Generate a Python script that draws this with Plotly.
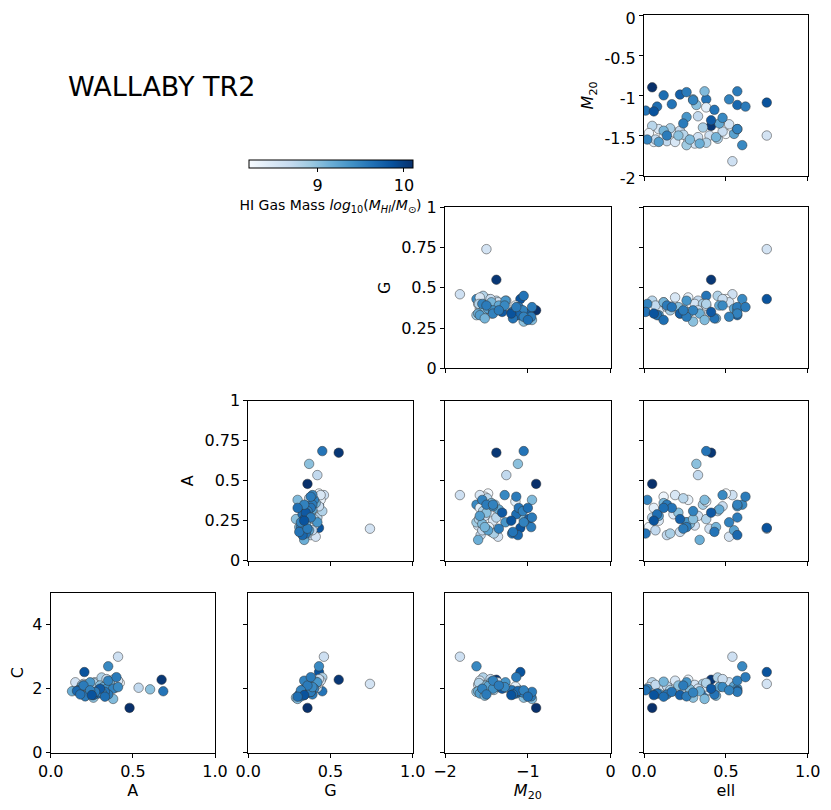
import plotly.graph_objects as go

# one entry per galaxy
A = [0.20, 0.675, 0.205, 0.48, 0.685, 0.605, 0.535, 0.41, 0.35,
     0.42, 0.40, 0.38, 0.33, 0.29, 0.25, 0.22, 0.20, 0.18, 0.16, 0.27, 0.31,
     0.35, 0.24, 0.21, 0.37, 0.41, 0.15, 0.28, 0.34, 0.19, 0.39, 0.26, 0.17,
     0.30, 0.23, 0.36, 0.13, 0.32, 0.19, 0.28, 0.24, 0.34, 0.21, 0.26, 0.38,
     0.38, 0.35, 0.17, 0.29, 0.33, 0.26, 0.21, 0.31, 0.16, 0.18, 0.30, 0.27,
     0.41, 0.35, 0.20, 0.24, 0.25, 0.40, 0.33]
G = [0.74, 0.55, 0.43, 0.36, 0.45, 0.37, 0.42, 0.46, 0.43,
     0.43, 0.41, 0.44, 0.37, 0.39, 0.36, 0.40, 0.35, 0.34, 0.38, 0.42, 0.45,
     0.40, 0.33, 0.37, 0.39, 0.44, 0.41, 0.36, 0.43, 0.39, 0.37, 0.40, 0.36,
     0.38, 0.35, 0.41, 0.34, 0.39, 0.37, 0.33, 0.42, 0.36, 0.31, 0.29, 0.30,
     0.40, 0.39, 0.35, 0.33, 0.38, 0.34, 0.32, 0.36, 0.33, 0.31, 0.35, 0.38,
     0.39, 0.34, 0.36, 0.32, 0.34, 0.38, 0.30]
M20 = [-1.50, -1.38, -1.09, -0.90, -1.05, -1.12, -1.26, -1.82, -1.62,
       -1.48, -1.52, -1.55, -1.58, -1.46, -1.42, -1.60, -1.50, -1.44, -1.57, -1.38, -1.54,
       -1.40, -1.62, -1.47, -1.15, -1.58, -1.36, -1.52, -1.45, -1.55, -1.49, -1.59, -1.41,
       -1.50, -1.55, -1.44, -1.60, -1.35, -1.48, -1.58, -1.27, -1.42, -1.52, -1.05, -0.95,
       -1.55, -1.50, -1.19, -1.14, -1.11, -0.99, -0.96, -1.06, -1.12, -1.18, -1.31, -0.95,
       -1.28, -1.42, -1.35, -1.05, -1.20, -1.14, -1.00]
ELL = [0.75, 0.41, 0.75, 0.05, 0.38, 0.32, 0.33, 0.54, 0.60,
       0.50, 0.12, 0.27, 0.06, 0.18, 0.09, 0.31, 0.40, 0.22, 0.14, 0.05, 0.45,
       0.36, 0.26, 0.03, 0.38, 0.19, 0.52, 0.33, 0.48, 0.07, 0.24, 0.38, 0.16,
       0.21, 0.28, 0.12, 0.34, 0.46, 0.55, 0.09, 0.26, 0.57, 0.44, 0.30, 0.37,
       0.02, 0.14, 0.01, 0.08, 0.17, 0.22, 0.26, 0.30, 0.57, 0.43, 0.41, 0.57,
       0.48, 0.57, 0.24, 0.52, 0.06, 0.62, 0.12]
C = [2.15, 2.28, 2.52, 1.40, 1.92, 1.98, 2.03, 3.00, 2.70,
     2.18, 2.10, 2.28, 2.05, 2.02, 1.98, 2.12, 1.95, 2.00, 2.08, 2.20, 2.35,
     2.15, 1.90, 2.05, 2.07, 2.25, 2.20, 2.00, 2.30, 2.12, 2.02, 2.18, 1.96,
     2.10, 1.98, 2.22, 1.92, 2.05, 2.08, 1.85, 2.20, 2.00, 1.78, 1.72, 1.68,
     2.00, 1.82, 1.95, 1.85, 1.90, 1.80, 1.76, 1.88, 1.93, 1.82, 2.00, 1.90,
     2.05, 2.25, 2.10, 1.95, 1.80, 2.36, 1.75]
LOGM = [8.55, 10.05, 9.85, 10.10, 9.60, 9.00, 8.70, 8.60, 9.45,
        8.25, 8.30, 8.35, 8.40, 8.45, 8.50, 8.55, 8.60, 8.65, 8.70, 8.75, 8.80,
        8.85, 8.90, 8.30, 8.40, 8.50, 8.55, 8.60, 8.65, 8.70, 8.75, 8.80, 8.85,
        9.00, 9.05, 9.10, 9.15, 9.20, 9.25, 9.30, 9.35, 9.40, 9.10, 9.00, 9.05,
        9.50, 9.55, 9.60, 9.65, 9.60, 9.75, 9.55, 9.50, 9.70, 9.60, 9.80, 9.55,
        9.45, 9.50, 9.55, 9.50, 9.85, 9.55, 9.65]

data = {'A': A, 'G': G, 'M20': M20, 'ell': ELL, 'C': C}

# axis settings: range, tick values, tick text, title
axis_info = {
    'A': ([0, 1], [0, 0.5, 1], ['0.0', '0.5', '1.0'], 'A'),
    'G': ([0, 1], [0, 0.5, 1], ['0.0', '0.5', '1.0'], 'G'),
    'M20': ([-2, 0], [-2, -1, 0], ['\u22122', '\u22121', '0'], '<i>M</i><sub>20</sub>'),
    'ell': ([0, 1], [0, 0.5, 1], ['0.0', '0.5', '1.0'], 'ell'),
}
yaxis_info = {
    'M20': ([-2, 0], [-2, -1.5, -1, -0.5, 0], ['-2', '-1.5', '-1', '-0.5', '0'], '<i>M</i><sub>20</sub>'),
    'G': ([0, 1], [0, 0.25, 0.5, 0.75, 1], ['0', '0.25', '0.5', '0.75', '1'], 'G'),
    'A': ([0, 1], [0, 0.25, 0.5, 0.75, 1], ['0', '0.25', '0.5', '0.75', '1'], 'A'),
    'C': ([0, 5], [0, 2, 4], ['0', '2', '4'], 'C'),
}

# page body has an 8px margin, so work in window pixels and shift
OFF = 8
W, H = 831 - OFF, 810 - OFF


def px_x(p):
    return (p - OFF) / W


def px_y(p):
    return 1 - (p - OFF) / H


x_vars = ['A', 'G', 'M20', 'ell']
y_vars = ['M20', 'G', 'A', 'C']
col_px = [(50.7, 215.0), (248.3, 412.7), (445.0, 610.7), (644.0, 807.7)]
row_px = [(15.0, 175.7), (207.3, 368.3), (400.7, 560.7), (592.7, 752.7)]

FONT = 'DejaVu Sans'
FS = 16
fig = go.Figure()
layout = {}
n = 0
for r, yv in enumerate(y_vars):
    for c, xv in enumerate(x_vars):
        if c < 3 - r:
            continue
        n += 1
        xr, xtv, xtt, xtitle = axis_info[xv]
        yr, ytv, ytt, ytitle = yaxis_info[yv]
        bottom = r == 3
        left = c == 3 - r
        fig.add_trace(go.Scatter(
            x=data[xv], y=data[yv], mode='markers',
            xaxis='x%d' % n, yaxis='y%d' % n,
            marker=dict(size=9.5, color=LOGM, coloraxis='coloraxis',
                        line=dict(color='#333333', width=0.5)),
            showlegend=False, hoverinfo='skip'))
        common = dict(showline=True, linecolor='black', linewidth=1, mirror=True,
                      ticks='outside', ticklen=4, tickcolor='black', showgrid=False,
                      zeroline=False, automargin=False, ticklabeloverflow='allow',
                      tickfont=dict(size=FS, color='black'))
        xa = dict(domain=[px_x(col_px[c][0]), px_x(col_px[c][1])], range=xr,
                  anchor='y%d' % n, tickvals=xtv, ticktext=xtt,
                  showticklabels=bottom, **common)
        if bottom:
            xa['title'] = dict(text=xtitle, font=dict(size=FS, color='black'), standoff=4)
        ya = dict(domain=[px_y(row_px[r][1]), px_y(row_px[r][0])], range=yr,
                  anchor='x%d' % n, tickvals=ytv, ticktext=ytt,
                  showticklabels=left, **common)
        if left:
            ya['title'] = dict(text=ytitle, font=dict(size=FS, color='black'), standoff=6)
        if r == 0:
            # keep the top "0" label inside the page
            ya['ticklabelshift'] = 3
        layout['xaxis%d' % n] = xa
        layout['yaxis%d' % n] = ya

fig.update_layout(**layout)
fig.update_layout(
    width=W, height=H,
    margin=dict(l=0, r=0, t=0, b=0),
    paper_bgcolor='white', plot_bgcolor='white',
    font=dict(family=FONT, color='black'),
    coloraxis=dict(
        colorscale='Blues', cmin=8.2, cmax=10.1,
        colorbar=dict(
            orientation='h', x=px_x(330.5), xanchor='center', y=px_y(160.0), yanchor='top',
            len=164.4, lenmode='pixels', thickness=8, thicknessmode='pixels',
            outlinecolor='black', outlinewidth=1, ypad=0, xpad=0,
            tickvals=[9, 10], ticks='outside', ticklen=4, tickcolor='black',
            tickfont=dict(size=FS, color='black'),
            title=dict(text='HI Gas Mass <i>log</i><sub>10</sub>(<i>M<sub>HI</sub></i>/<i>M</i><sub>\u2299</sub>)',
                       side='bottom', font=dict(size=14, color='black')))),
    annotations=[dict(text='WALLABY TR2', x=px_x(66.0), y=px_y(86.0), xref='paper', yref='paper',
                      xanchor='left', yanchor='middle', showarrow=False,
                      font=dict(size=27, color='black'))],
)

fig.write_html("out.html")
